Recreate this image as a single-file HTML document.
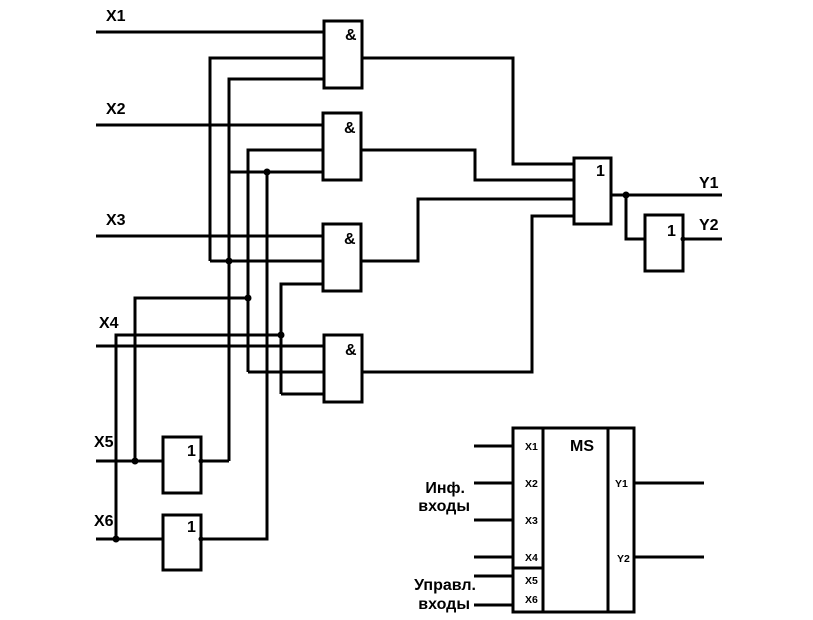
<!DOCTYPE html>
<html><head><meta charset="utf-8"><style>body{margin:0;background:#fff}</style></head><body>
<svg width="813" height="615" viewBox="0 0 813 615" xmlns="http://www.w3.org/2000/svg" font-family="Liberation Sans, sans-serif" font-weight="bold">
<g stroke="#000" stroke-width="3" fill="none">
<rect x="324" y="21" width="38" height="67"/>
<rect x="323" y="113" width="38" height="67"/>
<rect x="323" y="224" width="38" height="67"/>
<rect x="324" y="335" width="38" height="67"/>
<rect x="574" y="158" width="37" height="66"/>
<rect x="645" y="215" width="38" height="56"/>
<rect x="163" y="437" width="38" height="56"/>
<rect x="163" y="515" width="38" height="55"/>
<path d="M96 32H324M210 261V58H324M229 461V79H324"/>
<path d="M96 125H323M248 372V150H323M229 172H323"/>
<path d="M96 236H323M210 261H323M281 394V284H323"/>
<path d="M96 346H324M248 372H324M281 394H324"/>
<path d="M135 461V298H248M116 539V335H281"/>
<path d="M96 461H163M96 539H163M201 461H229M201 539H267V172"/>
<path d="M362 58H513V164H574M361 150H475V180H574M361 261H418V199H574M362 372H532V216H574"/>
<path d="M611 195H722M626 195V239H645M683 239H722"/>
<rect x="513" y="428" width="121" height="184"/>
<path d="M543 428V612M608 428V612M513 568H543"/>
<path d="M474 446H513M474 483H513M474 520H513M474 557H513M474 576H513M474 605H513M634 483H704M634 557H704"/>
</g>
<g fill="#000">
<circle cx="267" cy="172" r="3.5"/><circle cx="229" cy="261" r="3.5"/><circle cx="248" cy="298" r="3.5"/>
<circle cx="281" cy="335" r="3.5"/><circle cx="135" cy="461" r="3.5"/><circle cx="116" cy="539" r="3.5"/>
<circle cx="626" cy="195" r="3.5"/><circle cx="201" cy="461" r="2.5"/><circle cx="201" cy="539" r="2.5"/><circle cx="683" cy="239" r="2.5"/>
</g>
<g font-size="16">
<text x="106" y="21">X1</text><text x="106" y="114">X2</text><text x="106" y="225">X3</text>
<text x="99" y="328">X4</text><text x="94" y="447">X5</text><text x="94" y="526">X6</text>
<text x="699" y="188">Y1</text><text x="699" y="230">Y2</text>
<text x="345" y="40">&amp;</text><text x="344" y="133">&amp;</text><text x="344" y="244">&amp;</text><text x="345" y="355">&amp;</text>
<text x="596" y="176">1</text><text x="667" y="236">1</text><text x="187" y="456">1</text><text x="187" y="532">1</text>
<text x="570" y="451">MS</text>
</g>
<g font-size="10.5">
<text x="525" y="450">X1</text><text x="525" y="487">X2</text><text x="525" y="524">X3</text><text x="525" y="561">X4</text>
<text x="525" y="584">X5</text><text x="525" y="603">X6</text>
<text x="615" y="487">Y1</text><text x="617" y="562">Y2</text>
</g>
<g font-size="16" text-anchor="end">
<text x="465" y="493">Инф.</text><text x="470" y="511">входы</text>
<text x="476" y="590">Управл.</text><text x="470" y="609">входы</text>
</g>
</svg>
</body></html>
